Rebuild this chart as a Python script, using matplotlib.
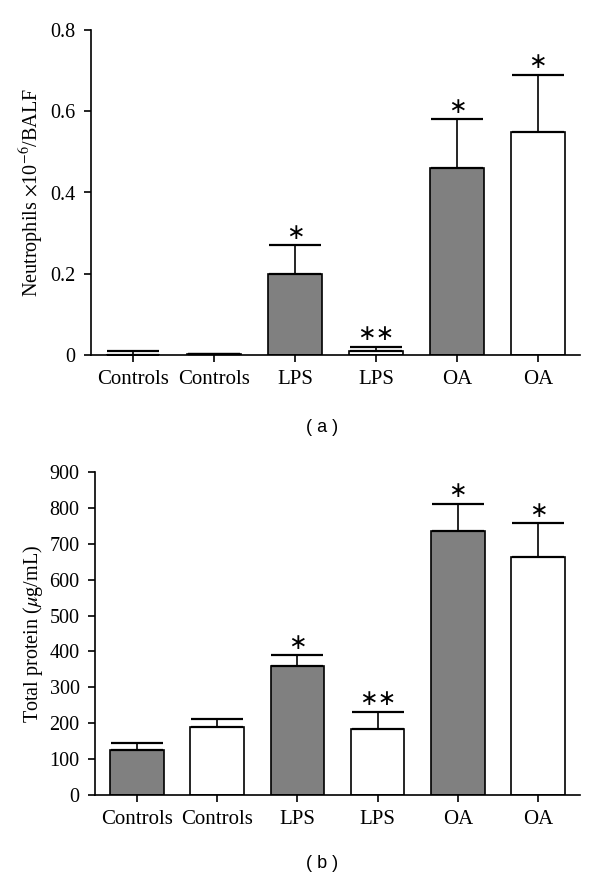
import matplotlib.pyplot as plt
import numpy as np

# Group labels and fill colours (same for both panels)
groups = ['Controls', 'Controls', 'LPS', 'LPS', 'OA', 'OA']
fills = ['#808080', 'white', '#808080', 'white', '#808080', 'white']

# Panel (a): neutrophils x10^-6 / BALF
neut_mean = [0.0, 0.002, 0.20, 0.01, 0.46, 0.55]
neut_err = [0.01, 0.0, 0.07, 0.01, 0.12, 0.14]
neut_marks = ['', '', '\u2217', '\u2217\u2217', '\u2217', '\u2217']

# Panel (b): total protein (ug/mL)
prot_mean = [125, 190, 360, 183, 736, 662]
prot_err = [19, 21, 30, 49, 75, 95]
prot_marks = ['', '', '\u2217', '\u2217\u2217', '\u2217', '\u2217']

plt.rcParams['font.family'] = ['Liberation Serif', 'DejaVu Serif']
plt.rcParams['mathtext.fontset'] = 'stix'

fig = plt.figure(figsize=(6, 8.8), dpi=100)
ax_a = fig.add_axes([0.1517, 0.5966, 0.815, 0.3693])
ax_b = fig.add_axes([0.1583, 0.0966, 0.8083, 0.367])


def draw_panel(ax, means, errs, marks, ymax, yticks, yticklabels, ylabel, gap):
    x = np.arange(len(groups))
    lower = np.zeros(len(errs))
    ax.bar(x, means, width=0.667, color=fills, edgecolor='black', linewidth=1.2,
           yerr=[lower, errs], zorder=2,
           error_kw=dict(ecolor='black', elinewidth=1.2, capsize=19, capthick=1.6))
    for xi, m, e, s in zip(x, means, errs, marks):
        if s:
            ax.text(xi, m + e + gap, s, ha='center', va='bottom', fontsize=16,
                    fontfamily='DejaVu Sans', color='black')
    ax.set_xlim(-0.52, 5.52)
    ax.set_ylim(0, ymax)
    ax.set_xticks(x)
    ax.set_xticklabels(groups, fontsize=15)
    ax.set_yticks(yticks)
    ax.set_yticklabels(yticklabels, fontsize=14.5)
    ax.set_ylabel(ylabel, fontsize=14.5, labelpad=3)
    for side in ['top', 'right']:
        ax.spines[side].set_visible(False)
    ax.spines['left'].set_linewidth(1.2)
    ax.spines['bottom'].set_linewidth(1.2)
    ax.tick_params(axis='both', direction='out', length=5, width=1.2, pad=6)


draw_panel(ax_a, neut_mean, neut_err, neut_marks, 0.8,
           [0, 0.2, 0.4, 0.6, 0.8], ['0', '0.2', '0.4', '0.6', '0.8'],
           r'Neutrophils $\times$10$^{-6}$/BALF', 0.006)
draw_panel(ax_b, prot_mean, prot_err, prot_marks, 900,
           list(range(0, 1000, 100)), [str(v) for v in range(0, 1000, 100)],
           r'Total protein ($\mu$g/mL)', 7)

fig.text(0.537, 1 - 427 / 880, '( a )', ha='center', va='center',
         fontsize=13, fontfamily='Liberation Sans')
fig.text(0.537, 1 - 863 / 880, '( b )', ha='center', va='center',
         fontsize=13, fontfamily='Liberation Sans')

fig.savefig('out.png', dpi=100)
